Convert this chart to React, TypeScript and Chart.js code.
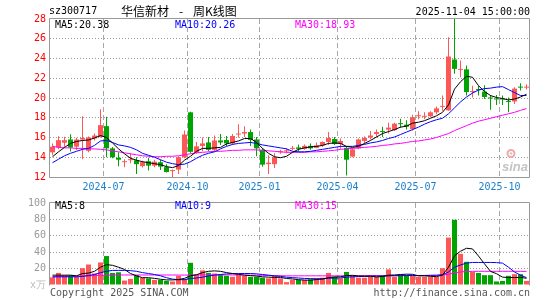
import React, { useEffect, useRef } from 'react';
import { Chart, registerables } from 'chart.js';
Chart.register(...registerables);

// ---------- data ----------
const weekLabels = [
  '2024-04-29','2024-05-06','2024-05-13','2024-05-20','2024-05-27','2024-06-03','2024-06-10','2024-06-17','2024-06-24','2024-07-01',
  '2024-07-08','2024-07-15','2024-07-22','2024-07-29','2024-08-05','2024-08-12','2024-08-19','2024-08-26','2024-09-02','2024-09-09',
  '2024-09-16','2024-09-23','2024-09-30','2024-10-07','2024-10-14','2024-10-21','2024-10-28','2024-11-04','2024-11-11','2024-11-18',
  '2024-11-25','2024-12-02','2024-12-09','2024-12-16','2024-12-23','2024-12-30','2025-01-06','2025-01-13','2025-01-20','2025-01-27',
  '2025-02-03','2025-02-10','2025-02-17','2025-02-24','2025-03-03','2025-03-10','2025-03-17','2025-03-24','2025-03-31','2025-04-07',
  '2025-04-14','2025-04-21','2025-04-28','2025-05-05','2025-05-12','2025-05-19','2025-05-26','2025-06-02','2025-06-09','2025-06-16',
  '2025-06-23','2025-06-30','2025-07-07','2025-07-14','2025-07-21','2025-07-28','2025-08-04','2025-08-11','2025-08-18','2025-08-25',
  '2025-09-01','2025-09-08','2025-09-15','2025-09-22','2025-09-29','2025-10-06','2025-10-13','2025-10-20','2025-10-27','2025-11-03',
];
const monthTickIdx = [9, 23, 35, 48, 61, 75];
const monthTickLabels = ['2024-07', '2024-10', '2025-01', '2025-04', '2025-07', '2025-10'];

const openP = [14.5, 15.0, 15.47, 15.8, 15.07, 15.8, 14.65, 15.9, 16.05, 17.15,
  14.9, 13.95, 13.5, 13.7, 13.7, 13.1, 13.6, 13.15, 13.5, 13.0,
  12.6, 12.75, 14.0, 18.55, 14.5, 15.15, 15.5, 14.75, 15.7, 15.75,
  15.4, 16.3, 16.4, 16.55, 15.8, 14.75, 13.3, 13.3, 14.5, 14.6,
  14.85, 15.0, 14.85, 15.15, 14.95, 15.2, 15.55, 15.85, 15.35, 14.95,
  14.07, 14.9, 15.65, 16.0, 16.35, 16.6, 16.8, 16.75, 17.45, 17.3,
  16.85, 18.15, 18.1, 18.15, 18.55, 19.1, 18.75, 23.9, 22.85, 22.9,
  20.6, 20.9, 20.65, 20.0, 19.95, 19.9, 19.7, 19.65, 21.1, 21.05];
const closeP = [15.07, 15.73, 15.73, 15.0, 15.8, 15.95, 16.0, 16.2, 17.25, 14.9,
  14.0, 13.75, 13.6, 13.8, 13.3, 13.5, 13.15, 13.55, 13.05, 12.5,
  12.7, 14.0, 16.3, 14.55, 15.1, 15.4, 14.75, 15.7, 15.5, 15.4,
  16.15, 16.35, 16.55, 15.75, 14.9, 13.25, 13.45, 14.0, 14.6, 14.7,
  14.95, 14.85, 15.15, 14.9, 15.2, 15.55, 15.95, 15.35, 15.65, 13.75,
  14.8, 15.8, 15.95, 16.2, 16.55, 16.55, 17.0, 17.4, 17.35, 17.1,
  18.05, 18.25, 18.2, 18.55, 18.95, 19.2, 24.2, 22.95, 22.95, 20.6,
  20.7, 20.8, 20.1, 19.95, 19.85, 19.85, 19.6, 20.95, 21.05, 21.15];
const highP = [15.4, 16.13, 16.07, 16.33, 15.97, 18.15, 16.1, 16.4, 18.85, 18.1,
  15.05, 14.5, 13.8, 14.4, 14.0, 13.65, 13.95, 13.75, 13.75, 13.3,
  12.75, 14.1, 16.7, 18.6, 15.55, 16.0, 16.05, 16.2, 16.35, 16.15,
  16.35, 17.35, 17.15, 16.8, 16.05, 14.9, 14.2, 14.4, 14.75, 14.9,
  15.15, 15.3, 15.3, 15.4, 15.5, 15.6, 16.55, 16.05, 15.9, 15.1,
  14.9, 15.9, 16.1, 16.65, 16.8, 17.1, 17.5, 17.5, 17.9, 17.75,
  18.3, 18.65, 18.55, 18.65, 19.15, 20.25, 26.15, 28.5, 23.8, 23.3,
  21.25, 21.25, 21.3, 20.3, 20.3, 20.25, 20.05, 21.1, 21.5, 21.4];
const lowP = [14.2, 14.8, 15.07, 14.57, 14.73, 13.8, 14.5, 15.7, 16.0, 14.0,
  13.9, 13.1, 13.0, 13.4, 12.3, 12.95, 12.65, 13.0, 12.7, 12.45,
  12.0, 12.3, 13.9, 14.4, 14.35, 14.6, 14.6, 14.6, 15.25, 15.15,
  15.25, 16.0, 16.05, 15.15, 14.1, 13.05, 12.3, 12.9, 14.35, 14.4,
  14.7, 14.55, 14.75, 14.75, 14.9, 15.05, 15.25, 15.25, 14.85, 12.15,
  14.0, 14.8, 15.4, 15.8, 16.05, 16.05, 16.4, 16.65, 17.0, 16.8,
  16.7, 17.85, 17.85, 18.05, 18.35, 18.7, 18.7, 22.45, 22.1, 20.25,
  20.05, 20.25, 19.9, 18.8, 19.3, 19.3, 18.55, 19.4, 20.75, 20.85];

const ma5 = [14.05, 14.55, 15.0, 15.4, 15.6, 15.7, 15.75, 15.95, 16.2, 16.0,
  15.45, 14.85, 14.35, 13.9, 13.7, 13.55, 13.45, 13.35, 13.25, 13.05,
  12.95, 13.15, 13.7, 14.1, 14.6, 14.9, 14.9, 14.95, 15.0, 15.35,
  15.5, 15.65, 15.9, 15.9, 15.5, 14.9, 14.4, 14.05, 13.95, 14.1,
  14.5, 14.8, 14.95, 15.05, 15.1, 15.2, 15.4, 15.45, 15.4, 15.1,
  15.0, 15.1, 15.4, 15.7, 16.05, 16.4, 16.6, 16.8, 17.05, 17.15,
  17.45, 17.55, 17.7, 17.95, 18.2, 18.55, 19.3, 20.9, 21.65, 22.2,
  22.1, 21.25, 20.65, 20.25, 20.05, 19.95, 19.8, 19.9, 20.1, 20.38];
const ma10 = [13.45, 13.8, 14.15, 14.4, 14.6, 14.8, 14.9, 15.2, 15.65, 15.7,
  15.5, 15.25, 15.15, 15.0, 14.75, 14.4, 14.2, 14.0, 13.75, 13.5,
  13.35, 13.25, 13.3, 13.55, 13.9, 14.2, 14.4, 14.55, 14.85, 15.1,
  15.3, 15.4, 15.45, 15.5, 15.4, 15.25, 15.15, 15.05, 14.95, 14.85,
  14.6, 14.55, 14.55, 14.6, 14.7, 14.8, 14.9, 15.0, 15.1, 15.1,
  15.1, 15.2, 15.3, 15.45, 15.55, 15.7, 15.9, 16.05, 16.3, 16.55,
  16.8, 17.05, 17.35, 17.6, 17.8, 17.95, 18.4, 19.0, 19.6, 20.1,
  20.5, 20.8, 20.95, 21.0, 21.1, 21.15, 20.85, 20.55, 20.25, 20.26];
const ma30 = [15.1, 15.0, 14.95, 14.95, 14.9, 14.9, 14.85, 14.85, 14.8, 14.75,
  14.65, 14.55, 14.45, 14.35, 14.25, 14.15, 14.1, 14.05, 14.05, 14.1,
  14.1, 14.15, 14.25, 14.35, 14.45, 14.5, 14.55, 14.6, 14.6, 14.65,
  14.7, 14.7, 14.75, 14.75, 14.75, 14.7, 14.65, 14.6, 14.55, 14.5,
  14.5, 14.5, 14.5, 14.55, 14.55, 14.6, 14.65, 14.7, 14.8, 14.85,
  14.9, 14.95, 15.0, 15.05, 15.1, 15.2, 15.25, 15.35, 15.4, 15.5,
  15.6, 15.65, 15.75, 15.85, 16.0, 16.2, 16.4, 16.7, 16.95, 17.2,
  17.45, 17.65, 17.8, 17.95, 18.1, 18.25, 18.4, 18.55, 18.75, 18.93];

const volume = [9.3, 14.7, 12, 12, 10, 20.5, 25, 14, 27.5, 35.3,
  14.7, 15.5, 5.4, 7.4, 12, 8.9, 8.1, 6.2, 6.2, 5,
  4.3, 11.2, 7.4, 27.1, 12.8, 17.8, 14.7, 14, 12.8, 11.2,
  10, 12.8, 11.2, 10, 10, 8.9, 8.1, 11.2, 8.1, 3.5,
  6.2, 6.2, 6.2, 7, 8.1, 8.9, 14.7, 10, 8.1, 15.9,
  11.2, 8.9, 8.9, 10, 10, 12, 19, 10, 12.8, 12,
  11.2, 10, 10, 10, 10, 20.5, 57.8, 79.5, 38, 28.3,
  15.9, 14.7, 12, 12, 4.3, 5, 11.2, 13.2, 13.2, 5];
const volMa5 = [12, 12, 12, 12, 11.2, 14, 14.5, 16.7, 21.7, 24.8,
  24, 21.7, 19, 14, 11.2, 8.9, 8.9, 8.1, 7, 6.2,
  6.2, 6.6, 8.1, 11.2, 12.5, 15.1, 16.7, 17.2, 16.7, 15.1,
  14, 13, 12, 11.5, 10.9, 10, 9.6, 9.3, 9.3, 7.9,
  7.4, 6.5, 6, 5.8, 6.7, 7.3, 9.0, 9.8, 10, 11.5,
  11.8, 11, 10.8, 10.8, 9.8, 10.4, 12, 12.2, 12.8, 13.2,
  13, 11.2, 11.2, 10.6, 10.2, 12.1, 21.7, 35.5, 41.2, 44.8,
  44, 35.3, 25.8, 16.6, 13.8, 9.6, 9.1, 9.1, 9.4, 8.1];
const volMa10 = [9.7, 10, 10, 10, 10, 10.5, 11.5, 12.8, 15, 16.7,
  17.8, 17.8, 17.8, 17.5, 16.7, 15.1, 14, 12.8, 11.2, 8.9,
  7.2, 6.5, 6.5, 8, 8.5, 9.5, 11, 12, 12.8, 13.5,
  13.8, 14, 14, 14, 13.6, 12.8, 12, 11.2, 10.5, 9.5,
  9, 8.5, 8, 7.8, 7.6, 7.5, 8.2, 8.5, 8.6, 9.5,
  10, 10.3, 10.5, 10.8, 11, 10.8, 11.2, 11.3, 11.4, 11.5,
  11.6, 11.5, 11.5, 11.8, 11.9, 12.5, 15.9, 21.7, 24.4, 26.7,
  27.5, 27.5, 27.5, 27.5, 27.3, 26.7, 21.7, 15.9, 12, 9];
const volMa30 = [10.3, 10.4, 10.5, 10.6, 10.8, 11.0, 11.2, 11.4, 11.7, 12.0,
  12.2, 12.2, 12.2, 12.2, 12.2, 12.2, 12.2, 12.2, 12.2, 12.2,
  12.2, 12.1, 12.1, 12.2, 12.2, 12.3, 12.3, 12.3, 12.3, 12.3,
  12.2, 12.2, 12.1, 12.0, 12.0, 11.8, 11.6, 11.4, 11.3, 11.2,
  11.2, 11.2, 11.2, 11.2, 11.2, 11.2, 11.2, 11.2, 11.2, 11.2,
  11.3, 11.3, 11.3, 11.4, 11.4, 11.4, 11.5, 11.5, 11.5, 11.6,
  11.6, 11.6, 11.7, 11.7, 11.8, 12.2, 13.0, 14.8, 15.9, 16.5,
  16.6, 16.7, 16.7, 16.7, 16.7, 16.7, 16.7, 16.7, 16.6, 16.6];

const priceLegend = ['MA5:20.38', 'MA10:20.26', 'MA30:18.93'];
const volLegend = ['MA5:8', 'MA10:9', 'MA30:15'];

// ---------- styles ----------
const RED = '#ff5656';
const GREEN = '#00a400';
const MONO = '"DejaVu Sans Mono", "Liberation Mono", monospace';
const CJK = '"Noto Sans CJK SC", sans-serif';
const X_MIN = 1 / 12;
const X_MAX = 80 + 1 / 12;

const isUp = (i: number) => closeP[i] >= openP[i];
const candleColors = weekLabels.map((_, i) => (isUp(i) ? RED : GREEN));
const xv = (i: number) => i + 0.5;

const xScaleBase = (showLabels: boolean, axisHeight: number) => ({
  type: 'linear' as const,
  min: X_MIN,
  max: X_MAX,
  offset: false,
  bounds: 'data' as const,
  afterBuildTicks: (s: any) => {
    s.ticks = monthTickIdx.map((v) => ({ value: v }));
  },
  afterFit: (s: any) => {
    s.height = axisHeight;
  },
  ticks: {
    display: showLabels,
    autoSkip: false,
    maxRotation: 0,
    padding: 4,
    color: '#1a7fcc',
    font: { family: MONO, size: 10 },
    callback: (v: number) => {
      const i = monthTickIdx.indexOf(v);
      return i >= 0 ? monthTickLabels[i] : '';
    },
  },
  grid: { color: '#a8a8a8', lineWidth: 1, drawTicks: false, offset: false },
  border: { display: false, dash: [5, 3] },
});

const framePlugin = (drawBottom: boolean) => ({
  id: 'frame',
  beforeDatasetsDraw(chart: any) {
    const { ctx, chartArea: a } = chart;
    ctx.save();
    ctx.strokeStyle = '#999999';
    ctx.lineWidth = 1;
    ctx.beginPath();
    const l = Math.round(a.left) - 0.5;
    const r = Math.round(a.right) - 0.5;
    const t = Math.round(a.top) - 0.5;
    const b = Math.round(a.bottom) + 0.5;
    if (drawBottom) {
      ctx.moveTo(l, b); ctx.lineTo(l, t); ctx.lineTo(r, t); ctx.lineTo(r, b); ctx.lineTo(l, b);
    } else {
      ctx.moveTo(l, b); ctx.lineTo(l, t); ctx.lineTo(r, t); ctx.lineTo(r, b);
    }
    ctx.stroke();
    ctx.restore();
  },
});

const lineDs = (data: number[], color: string) => ({
  type: 'line' as const,
  data: data.map((v, i) => ({ x: xv(i), y: v })),
  borderColor: color,
  borderWidth: 1,
  pointRadius: 0,
  tension: 0,
  order: 0,
});

export default function App() {
  const topRef = useRef<HTMLCanvasElement>(null);
  const botRef = useRef<HTMLCanvasElement>(null);

  useEffect(() => {
    const topPlugins = [
      framePlugin(true),
      {
        id: 'topText',
        afterDraw(chart: any) {
          const ctx = chart.ctx;
          ctx.save();
          ctx.textBaseline = 'middle';
          ctx.fillStyle = '#000';
          ctx.font = `10px ${MONO}`;
          ctx.textAlign = 'left';
          ctx.fillText('sz300717', 49, 11);
          ctx.font = `12px ${CJK}`;
          ctx.fillText('华信新材', 121, 11);
          ctx.fillText('-', 179, 11);
          ctx.fillText('周K线图', 193, 11);
          ctx.font = `10px ${MONO}`;
          ctx.textAlign = 'right';
          ctx.fillText('2025-11-04 15:00:00', 530, 12);
          ctx.textAlign = 'left';
          ctx.fillStyle = '#000000';
          ctx.fillText(priceLegend[0], 55, 25);
          ctx.fillStyle = '#0000ff';
          ctx.fillText(priceLegend[1], 175, 25);
          ctx.fillStyle = '#ff00ff';
          ctx.fillText(priceLegend[2], 295, 25);
          // sina watermark
          ctx.strokeStyle = '#f2a8a8';
          ctx.lineWidth = 2;
          ctx.beginPath();
          ctx.arc(511, 153.5, 3.5, 0, Math.PI * 2);
          ctx.stroke();
          ctx.fillStyle = '#c8c8c8';
          ctx.beginPath();
          ctx.arc(511, 153.5, 1.2, 0, Math.PI * 2);
          ctx.fill();
          ctx.font = 'italic bold 13px "Liberation Sans", sans-serif';
          ctx.textBaseline = 'alphabetic';
          ctx.fillStyle = '#c4c4c4';
          ctx.fillText('sina', 502, 171);
          ctx.restore();
        },
      },
    ];

    const top = new Chart(topRef.current as HTMLCanvasElement, {
      type: 'bar',
      data: {
        datasets: [
          lineDs(ma5, '#000000'),
          lineDs(ma10, '#0000ff'),
          lineDs(ma30, '#ff00ff'),
          {
            type: 'bar',
            data: weekLabels.map((_, i) => ({
              x: xv(i),
              y: [Math.min(openP[i], closeP[i]), Math.max(openP[i], closeP[i])],
            })),
            backgroundColor: candleColors,
            borderWidth: 0,
            barThickness: 5,
            grouped: false,
            minBarLength: 1,
            inflateAmount: 0,
            order: 1,
          } as any,
          {
            type: 'bar',
            data: weekLabels.map((_, i) => ({ x: xv(i), y: [lowP[i], highP[i]] })),
            backgroundColor: candleColors,
            borderWidth: 0,
            barThickness: 1,
            grouped: false,
            minBarLength: 1,
            inflateAmount: 0,
            order: 2,
          } as any,
        ],
      },
      options: {
        responsive: false,
        maintainAspectRatio: false,
        animation: false,
        events: [],
        layout: { padding: { top: 19, right: 15, left: 0, bottom: 0 } },
        plugins: { legend: { display: false }, tooltip: { enabled: false } },
        scales: {
          x: xScaleBase(true, 16) as any,
          y: {
            min: 12,
            max: 28,
            afterFit: (s: any) => {
              s.width = 50;
            },
            ticks: {
              stepSize: 2,
              padding: 4,
              color: '#ff0000',
              font: { family: MONO, size: 10 },
            },
            grid: {
              drawTicks: false,
              color: (c: any) =>
                c.tick && (c.tick.value === 12 || c.tick.value === 28) ? 'rgba(0,0,0,0)' : '#999999',
            },
            border: { display: false, dash: [1, 2] },
          },
        },
      },
      plugins: topPlugins as any,
    });

    const botPlugins = [
      framePlugin(false),
      {
        id: 'botText',
        afterDraw(chart: any) {
          const ctx = chart.ctx;
          ctx.save();
          ctx.textBaseline = 'middle';
          ctx.font = `10px ${MONO}`;
          ctx.textAlign = 'left';
          ctx.fillStyle = '#000000';
          ctx.fillText(volLegend[0], 55, 13.5);
          ctx.fillStyle = '#0000ff';
          ctx.fillText(volLegend[1], 175, 13.5);
          ctx.fillStyle = '#ff00ff';
          ctx.fillText(volLegend[2], 295, 13.5);
          ctx.fillStyle = '#555555';
          ctx.fillText('Copyright 2025 SINA.COM', 50, 100);
          ctx.textAlign = 'right';
          ctx.fillText('http://finance.sina.com.cn', 530, 100);
          ctx.restore();
        },
      },
    ];

    const bot = new Chart(botRef.current as HTMLCanvasElement, {
      type: 'bar',
      data: {
        datasets: [
          lineDs(volMa5, '#000000'),
          lineDs(volMa10, '#0000ff'),
          lineDs(volMa30, '#ff00ff'),
          {
            type: 'bar',
            data: volume.map((v, i) => ({ x: xv(i), y: v })),
            backgroundColor: candleColors,
            borderWidth: 0,
            barThickness: 5,
            grouped: false,
            inflateAmount: 0,
            order: 1,
          } as any,
        ],
      },
      options: {
        responsive: false,
        maintainAspectRatio: false,
        animation: false,
        events: [],
        layout: { padding: { top: 7, right: 15, left: 0, bottom: 0 } },
        plugins: { legend: { display: false }, tooltip: { enabled: false } },
        scales: {
          x: xScaleBase(false, 15) as any,
          y: {
            min: 0,
            max: 100,
            afterFit: (s: any) => {
              s.width = 50;
            },
            ticks: {
              stepSize: 20,
              padding: 4,
              color: (c: any) => (c.tick && c.tick.value === 0 ? '#bbbbbb' : '#999999'),
              font: { family: MONO, size: 10 },
              callback: (v: number) => (v === 0 ? 'x万' : String(v)),
            },
            grid: {
              drawTicks: false,
              color: (c: any) =>
                c.tick && (c.tick.value === 0 || c.tick.value === 100) ? 'rgba(0,0,0,0)' : '#999999',
            },
            border: { display: false, dash: [1, 2] },
          },
        },
      },
      plugins: botPlugins as any,
    });

    return () => {
      top.destroy();
      bot.destroy();
    };
  }, []);

  return (
    <div style={{ position: 'absolute', left: 0, top: 0, width: 545, height: 300, background: '#fff' }}>
      <canvas ref={topRef} width={545} height={193} style={{ position: 'absolute', left: 0, top: 0, width: 545, height: 193 }} />
      <canvas ref={botRef} width={545} height={107} style={{ position: 'absolute', left: 0, top: 193, width: 545, height: 107 }} />
    </div>
  );
}
